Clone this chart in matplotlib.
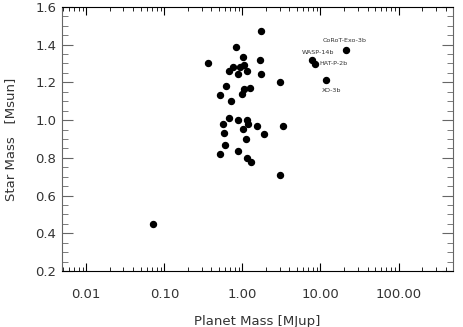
import numpy as np
import matplotlib
matplotlib.use("Agg")
import matplotlib.pyplot as plt
from matplotlib.ticker import FixedLocator, FixedFormatter, MultipleLocator, LogLocator, NullFormatter

# planet mass [MJup] and host star mass [Msun]
planet_mass = [1.73, 0.826, 0.358, 1.01, 1.69, 0.762, 0.671, 0.937, 1.045, 1.132,
               0.876, 1.73, 3.05, 0.620, 1.045, 1.259, 0.994, 0.515, 0.712, 0.677,
               0.884, 1.132, 1.187, 1.55, 0.557, 3.28, 0.584, 1.015, 1.89, 1.10,
               0.597, 0.868, 0.519, 1.132, 1.285, 3.03, 0.0706]
star_mass = [1.473, 1.388, 1.303, 1.333, 1.321, 1.283, 1.262, 1.280, 1.292, 1.262,
             1.243, 1.243, 1.201, 1.181, 1.164, 1.171, 1.139, 1.132, 1.102, 1.010,
             1.001, 1.002, 0.980, 0.971, 0.980, 0.971, 0.933, 0.952, 0.925, 0.900,
             0.868, 0.838, 0.819, 0.798, 0.777, 0.709, 0.448]

# labelled planets
named = ["WASP-14b", "HAT-P-2b", "XO-3b", "CoRoT-Exo-3b"]
named_mass = [7.71, 8.50, 11.7, 21.4]
named_star = [1.321, 1.299, 1.215, 1.372]
label_offsets = [(-7, 5), (3, 0), (-3, -8), (-17, 7)]  # points

x_ticks = [0.01, 0.1, 1.0, 10.0, 100.0]
x_ticklabels = ["0.01", "0.10", "1.00", "10.00", "100.00"]
y_ticks = [0.2, 0.4, 0.6, 0.8, 1.0, 1.2, 1.4, 1.6]

txt = "#333333"
fig = plt.figure(figsize=(4.63, 3.27), dpi=100)
ax = fig.add_axes([0.134, 0.171, 0.844, 0.808])

ax.plot(planet_mass, star_mass, "o", color="black", ms=4.3, ls="none")
ax.plot(named_mass, named_star, "o", color="black", ms=4.3, ls="none")
for name, xm, ym, off in zip(named, named_mass, named_star, label_offsets):
    ax.annotate(name, (xm, ym), xytext=off, textcoords="offset points",
                fontsize=4.6, color=txt, ha="left", va="center")

ax.set_xscale("log")
ax.set_xlim(0.0049, 495)
ax.set_ylim(0.2, 1.6)

ax.xaxis.set_major_locator(FixedLocator(x_ticks))
ax.xaxis.set_major_formatter(FixedFormatter(x_ticklabels))
ax.xaxis.set_minor_locator(LogLocator(base=10, subs=np.arange(2, 10), numticks=20))
ax.xaxis.set_minor_formatter(NullFormatter())
ax.yaxis.set_major_locator(FixedLocator(y_ticks))
ax.yaxis.set_major_formatter(FixedFormatter([f"{v:.1f}" for v in y_ticks]))
ax.yaxis.set_minor_locator(MultipleLocator(0.05))

ax.tick_params(which="both", direction="in", top=True, right=True, labelsize=9.5,
               labelcolor=txt)
ax.tick_params(axis="x", which="major", length=6, pad=12)
ax.tick_params(axis="x", which="minor", length=3)
ax.tick_params(axis="y", which="major", length=8, pad=4, color="#666666")
ax.tick_params(axis="y", which="minor", length=4, color="#666666")

for side in ["left", "right"]:
    ax.spines[side].set_color("#666666")
for side in ["top", "bottom"]:
    ax.spines[side].set_color("black")

ax.set_xlabel("Planet Mass [MJup]", fontsize=9.5, color=txt)
ax.set_ylabel("Star Mass   [Msun]", fontsize=9.5, color=txt)
ax.xaxis.set_label_coords(0.5, -0.165)
ax.yaxis.set_label_coords(-0.115, 0.5)

fig.savefig("out.png", dpi=100)
